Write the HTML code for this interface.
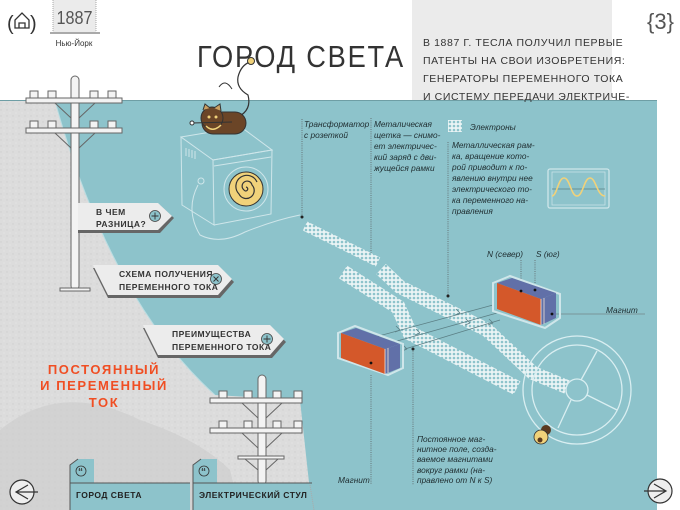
<!DOCTYPE html>
<html><head><meta charset="utf-8"><style>
html,body{margin:0;padding:0;background:#fff;}
body{width:680px;height:510px;overflow:hidden;position:relative;font-family:"Liberation Sans","DejaVu Sans",sans-serif;}
svg{position:absolute;left:0;top:0;}
</style></head><body>
<svg width="680" height="510" viewBox="0 0 680 510" xmlns="http://www.w3.org/2000/svg">
<defs>
<pattern id="el" width="4" height="4" patternUnits="userSpaceOnUse">
<rect width="4" height="4" fill="#eaf4f5"/>
<circle cx="2" cy="2" r="1.3" fill="#8dc3cb"/>
</pattern>
<pattern id="gr" width="6" height="6" patternUnits="userSpaceOnUse">
<rect width="6" height="6" fill="#dcdcdc"/>
<circle cx="1" cy="2" r="0.7" fill="#cfcfcf"/>
<circle cx="4" cy="5" r="0.6" fill="#e8e8e8"/>
</pattern>
</defs>
<rect x="0" y="100" width="657" height="410" fill="#8dc3cb"/>
<line x1="0" y1="100.5" x2="657" y2="100.5" stroke="#6e9ea5" stroke-width="1"/>
<path d="M0,101 L55,101 Q110,300 215,395 L300,400 L312,510 L0,510 Z" fill="url(#gr)"/>
<path d="M0,430 Q60,380 140,420 Q200,440 230,470 L240,510 L0,510 Z" fill="#cbcbcb" opacity="0.6"/>
<path d="M55,101 Q110,300 215,395" fill="none" stroke="#b9dde2" stroke-width="1"/>
<text x="7" y="30" font-size="20" fill="#333">(</text>
<text x="30" y="30" font-size="20" fill="#333">)</text>
<path d="M15,28 L15,20 L22,13 L29,20 L29,28 Z M19,28 L19,23 L25,23 L25,28" fill="none" stroke="#333" stroke-width="1.3"/>
<rect x="53" y="0" width="43" height="32" fill="#ebebeb"/>
<line x1="53" y1="0" x2="53" y2="32" stroke="#aaa" stroke-dasharray="1,1"/>
<line x1="96" y1="0" x2="96" y2="32" stroke="#aaa" stroke-dasharray="1,1"/>
<line x1="50" y1="33" x2="100" y2="33" stroke="#555" stroke-width="1"/>
<text x="74.5" y="24" font-size="18" fill="#555" text-anchor="middle" textLength="36" lengthAdjust="spacingAndGlyphs">1887</text>
<text x="74" y="46" font-size="8" fill="#333" text-anchor="middle">Нью-Йорк</text>
<text x="197" y="67" font-size="31" fill="#333" letter-spacing="2" textLength="208" lengthAdjust="spacingAndGlyphs">ГОРОД СВЕТА</text>
<rect x="412" y="0" width="200" height="100" fill="#ebebeb"/>
<g font-size="10.5" fill="#333" letter-spacing="0.6">
<text x="423" y="46">В 1887 Г. ТЕСЛА ПОЛУЧИЛ ПЕРВЫЕ</text>
<text x="423" y="64">ПАТЕНТЫ НА СВОИ ИЗОБРЕТЕНИЯ:</text>
<text x="423" y="82">ГЕНЕРАТОРЫ ПЕРЕМЕННОГО ТОКА</text>
<text x="423" y="100">И СИСТЕМУ ПЕРЕДАЧИ ЭЛЕКТРИЧЕ-</text>
</g>
<text x="647" y="29" font-size="22" fill="#555">{3}</text>
<g fill="#f3f3f3" stroke="#666" stroke-width="1">
<rect x="71" y="76" width="8" height="214" rx="4"/>
<rect x="26" y="98" width="96" height="5"/>
<rect x="26" y="128" width="96" height="5"/>
<rect x="60" y="288" width="30" height="3"/>
<rect x="30" y="91" width="8" height="7"/><rect x="48" y="91" width="8" height="7"/><rect x="90" y="91" width="8" height="7"/><rect x="108" y="91" width="8" height="7"/>
<rect x="30" y="121" width="8" height="7"/><rect x="48" y="121" width="8" height="7"/><rect x="90" y="121" width="8" height="7"/><rect x="108" y="121" width="8" height="7"/>
</g>
<path d="M55,103 L71,118 M95,103 L79,118 M55,133 L71,148 M95,133 L79,148" stroke="#666" fill="none"/>
<g fill="#f3f3f3" stroke="#666" stroke-width="1">
<rect x="258" y="375" width="8" height="110" rx="4"/>
<rect x="210" y="398" width="92" height="5"/>
<rect x="210" y="428" width="92" height="5"/>
<rect x="238" y="456" width="46" height="3"/>
<rect x="219" y="391" width="8" height="7"/><rect x="244" y="391" width="8" height="7"/><rect x="273" y="391" width="8" height="7"/><rect x="294" y="391" width="8" height="7"/>
<rect x="219" y="421" width="8" height="7"/><rect x="244" y="421" width="8" height="7"/><rect x="273" y="421" width="8" height="7"/><rect x="294" y="421" width="8" height="7"/>
</g>
<path d="M242,403 L258,418 M282,403 L266,418 M242,433 L258,448 M282,433 L266,448 M245,459 L258,470 M278,459 L266,470" stroke="#666" fill="none"/>
<g font-size="8.5" font-weight="bold" fill="#333" letter-spacing="0.5">
<path d="M78,205 L160,205 L174,218 L160,233 L78,233 Z" fill="#666"/>
<path d="M78,203 L158,203 L172,216 L158,230 L78,230 Z" fill="#ececec"/>
<text x="96" y="215">В ЧЕМ</text><text x="96" y="227">РАЗНИЦА?</text>
<circle cx="155" cy="216" r="5.5" fill="#8dc3cb" stroke="#444" stroke-width="0.8"/>
<path d="M151.5,216 h7 M155,212.5 v7" stroke="#333" stroke-width="0.9"/>
<path d="M93,268 L220,268 L234,282 L220,298 L108,298 Z" fill="#666"/>
<path d="M93,265 L218,265 L232,279 L218,295 L108,295 Z" fill="#ececec"/>
<text x="119" y="277">СХЕМА ПОЛУЧЕНИЯ</text><text x="119" y="290">ПЕРЕМЕННОГО ТОКА</text>
<circle cx="216" cy="279" r="5.5" fill="#8dc3cb" stroke="#444" stroke-width="0.8"/>
<path d="M213.5,276.5 l5,5 M218.5,276.5 l-5,5" stroke="#333" stroke-width="0.9"/>
<path d="M143,328 L272,328 L286,342 L272,358 L158,358 Z" fill="#666"/>
<path d="M143,325 L270,325 L284,339 L270,355 L158,355 Z" fill="#ececec"/>
<text x="172" y="337">ПРЕИМУЩЕСТВА</text><text x="172" y="350">ПЕРЕМЕННОГО ТОКА</text>
<circle cx="267" cy="339" r="5.5" fill="#8dc3cb" stroke="#444" stroke-width="0.8"/>
<path d="M263.5,339 h7 M267,335.5 v7" stroke="#333" stroke-width="0.9"/>
</g>
<g font-size="13" font-weight="bold" fill="#f04e23" letter-spacing="1.6" text-anchor="middle">
<text x="104" y="374">ПОСТОЯННЫЙ</text>
<text x="104" y="390">И ПЕРЕМЕННЫЙ</text>
<text x="104" y="407">ТОК</text>
</g>
<path d="M70,510 L70,465 L78,459 L94,459 L94,483 L190,483 L190,510 Z" fill="#8dc3cb"/>
<path d="M70,483 L190,483" stroke="#555"/>
<path d="M70,510 L70,465 L78,459" stroke="#555" fill="none"/>
<circle cx="81" cy="471" r="5" fill="none" stroke="#333" stroke-width="0.8"/>
<text x="78" y="475" font-size="10" font-weight="bold" fill="#333">“</text>
<text x="76" y="498" font-size="8.5" font-weight="bold" fill="#222" letter-spacing="0.5">ГОРОД СВЕТА</text>
<path d="M193,510 L193,465 L201,459 L217,459 L217,483 L312,483 L312,510 Z" fill="#8dc3cb"/>
<path d="M193,483 L312,483" stroke="#555"/>
<path d="M193,510 L193,465 L201,459" stroke="#555" fill="none"/>
<circle cx="204" cy="471" r="5" fill="none" stroke="#333" stroke-width="0.8"/>
<text x="201" y="475" font-size="10" font-weight="bold" fill="#333">“</text>
<text x="199" y="498" font-size="8.5" font-weight="bold" fill="#222" letter-spacing="0.5">ЭЛЕКТРИЧЕСКИЙ СТУЛ</text>
<line x1="310" y1="485" x2="314" y2="510" stroke="#aaa" stroke-dasharray="1,1"/>
<circle cx="22" cy="492" r="12" fill="#eee" stroke="#333" stroke-width="1.2"/>
<path d="M28,485 L16,492 L28,499 M16,492 L38,492" fill="none" stroke="#333" stroke-width="1.2"/>
<circle cx="660" cy="491" r="12" fill="#eee" stroke="#333" stroke-width="1.2"/>
<path d="M654,484 L666,491 L654,498 M644,491 L666,491" fill="none" stroke="#333" stroke-width="1.2"/>
<g fill="none" stroke="#cfe6ea" stroke-width="1">
<path d="M181,137 L241,127 L272,150 L213,160 Z"/>
<path d="M181,137 L182,205 L214,225 L213,160"/>
<path d="M213,160 L272,150 L271,214 L214,225"/>
<path d="M214,166 L271,157"/>
<circle cx="201" cy="181" r="3"/>
<path d="M198,185 Q185,210 200,235 Q220,245 245,232 Q275,220 300,215"/>
<path d="M186,148 v8 M189,149 v8 M192,150 v8 M195,151 v8"/>
</g>
<circle cx="246" cy="189" r="22" fill="#8dc3cb" stroke="#cfe6ea"/>
<circle cx="246" cy="189" r="17" fill="#f1d27a" stroke="#333" stroke-width="1"/>
<path d="M246,189 m0,-2 a2,2 0 1,1 -2,3 a5,5 0 1,1 8,-5 a8,8 0 1,1 -13,9 a11,11 0 1,1 18,-12" fill="none" stroke="#333" stroke-width="1.2"/>
<path d="M219,87 Q225,78 232,89" fill="none" stroke="#333"/>
<path d="M238,117 Q252,110 248,95 Q236,88 238,77 Q241,65 250,62" fill="none" stroke="#333" stroke-width="1.2"/>
<circle cx="251" cy="61" r="3.5" fill="#f1d27a" stroke="#333"/>
<rect x="202" y="112" width="44" height="22" rx="11" fill="#6b4527" stroke="#333"/>
<circle cx="212" cy="118" r="11" fill="#6b4527" stroke="#333"/>
<path d="M203,110 L205,104 L210,108 M214,108 L220,104 L221,111" fill="#caa062" stroke="#333"/>
<path d="M206,126 Q213,133 221,125" fill="none" stroke="#f1d27a" stroke-width="1.5"/>
<path d="M192,123 L232,122" stroke="#333"/><circle cx="192" cy="123" r="2" fill="#fff" stroke="#333"/>
<circle cx="209" cy="117" r="1.5" fill="#f1d27a"/><circle cx="216" cy="117" r="1.5" fill="#f1d27a"/>
<g stroke="#555" stroke-width="0.7" stroke-dasharray="1,1.2" fill="none">
<line x1="302" y1="119" x2="302" y2="216"/>
<line x1="371" y1="118" x2="371" y2="256"/>
<line x1="448" y1="142" x2="448" y2="296"/>
<line x1="521" y1="260" x2="521" y2="291"/>
<line x1="535" y1="260" x2="535" y2="290"/>
<line x1="371" y1="375" x2="371" y2="485"/>
<line x1="413" y1="349" x2="413" y2="485"/>
</g>
<line x1="555" y1="314" x2="645" y2="314" stroke="#666" stroke-width="0.6"/>
<g fill="#222"><circle cx="302" cy="217" r="1.5"/><circle cx="371" cy="256" r="1.5"/><circle cx="448" cy="296" r="1.5"/><circle cx="413" cy="349" r="1.5"/></g>
<g fill="none" stroke="url(#el)" stroke-linejoin="miter">
<polyline points="305,226 378,262" stroke-width="10"/>
<polyline points="343,272 398,307 410,333 517,388" stroke-width="15"/>
<polyline points="381,269 400,287 487,330 533,373 567,387" stroke-width="14"/>
</g>
<g stroke="#5b7f85" stroke-width="0.8" fill="none">
<line x1="493" y1="305" x2="375" y2="337"/>
<line x1="497" y1="313" x2="390" y2="343"/>
<line x1="500" y1="320" x2="405" y2="349"/>
<path d="M460,313 l-4,-4 M460,313 l-5,2 M470,323 l-4,-4 M470,323 l-5,2 M400,330 l-4,-4 M400,330 l-5,2 M420,333 l-4,-4 M420,333 l-5,2 M407,349 l-4,-4 M407,349 l-5,2 M493,323 l-4,-4 M493,323 l-5,2"/>
</g>
<path d="M493,283 L510,276 L560,294 L560,318 L545,328 L493,311 Z" fill="none" stroke="#cfe6ea" stroke-width="2"/>
<path d="M497,283 L512,278 L556,293 L541,299 Z" fill="#6170a8"/>
<path d="M497,283 L541,299 L541,325 L497,309 Z" fill="#d4582a"/>
<path d="M541,299 L556,293 L556,318 L541,325 Z" fill="#6170a8"/>
<path d="M541,299 L541,325 M544,298 L544,324" stroke="#f3e2d6" stroke-width="0.8"/>
<circle cx="521" cy="291" r="1.4" fill="#111"/><circle cx="535" cy="290" r="1.4" fill="#111"/><circle cx="552" cy="314" r="1.4" fill="#111"/>
<path d="M338,333 L355,326 L403,344 L403,368 L388,375 L338,358 Z" fill="none" stroke="#cfe6ea" stroke-width="2"/>
<path d="M341,333 L356,328 L400,344 L385,349 Z" fill="#6170a8"/>
<path d="M341,333 L385,349 L385,374 L341,358 Z" fill="#d4582a"/>
<path d="M385,349 L400,344 L400,368 L385,374 Z" fill="#6170a8"/>
<path d="M385,349 L385,374 M388,348 L388,373" stroke="#f3e2d6" stroke-width="0.8"/>
<circle cx="371" cy="363" r="1.4" fill="#111"/>
<g fill="none" stroke="#d9eef1" stroke-width="1.3">
<circle cx="577" cy="390" r="54"/>
<circle cx="577" cy="390" r="45"/>
<circle cx="577" cy="390" r="11"/>
<line x1="581" y1="380" x2="597" y2="351"/>
<line x1="587" y1="395" x2="617" y2="410"/>
<line x1="571" y1="400" x2="558" y2="428"/>
</g>
<circle cx="546" cy="430" r="5" fill="#5a3a20"/>
<circle cx="541" cy="437" r="7" fill="#f1d27a" stroke="#333" stroke-width="0.8"/>
<circle cx="540" cy="440" r="2.5" fill="#5a3a20"/>
<rect x="548" y="169" width="61" height="39" rx="2" fill="none" stroke="#cfe6ea" stroke-width="1.3"/>
<rect x="552" y="172" width="53" height="33" fill="none" stroke="#cfe6ea" stroke-width="0.7"/>
<line x1="552" y1="189" x2="605" y2="189" stroke="#5b7f85" stroke-width="0.7"/>
<path d="M552,196 C557,196 558,178 564,178 C570,178 571,196 577,196 C583,196 584,178 590,178 C596,178 597,196 605,196" fill="none" stroke="#f1d27a" stroke-width="1.6"/>
<rect x="448" y="120" width="14" height="12" fill="url(#el)"/>
<g font-size="8.3" font-style="italic" fill="#1f2d30">
<text x="304" y="127">Трансформатор</text><text x="304" y="138">с розеткой</text>
<text x="374" y="127">Металическая</text><text x="374" y="138">щетка — снимо-</text><text x="374" y="149">ет электричес-</text><text x="374" y="160">кий заряд с дви-</text><text x="374" y="171">жущейся рамки</text>
<text x="470" y="130">Электроны</text>
<text x="452" y="148">Металлическая рам-</text><text x="452" y="159">ка, вращение кото-</text><text x="452" y="170">рой приводит к по-</text><text x="452" y="181">явлению внутри нее</text><text x="452" y="192">электрического то-</text><text x="452" y="203">ка переменного на-</text><text x="452" y="214">правления</text>
<text x="487" y="257">N  (север)</text><text x="536" y="257">S (юг)</text>
<text x="606" y="313">Магнит</text>
<text x="338" y="483">Магнит</text>
<text x="417" y="442">Постоянное маг-</text><text x="417" y="452">нитное поле, созда-</text><text x="417" y="462">ваемое магнитами</text><text x="417" y="473">вокруг рамки (на-</text><text x="417" y="483">правлено от N к S)</text>
</g>
</svg>
</body></html>
